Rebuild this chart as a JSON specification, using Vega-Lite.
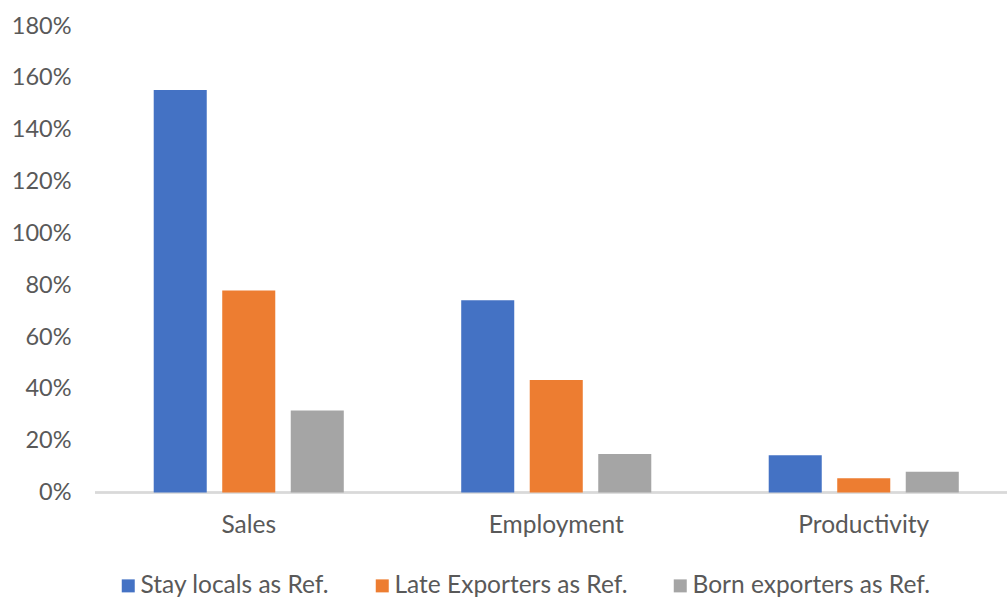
{
  "$schema": "https://vega.github.io/schema/vega-lite/v6.json",
  "autosize": {"type": "none"},
  "padding": {"left": 95, "top": 26, "right": 0, "bottom": 105},
  "width": 912,
  "height": 466.5,
  "background": "white",
  "config": {"view": {"stroke": null}, "font": "Lato"},
  "data": {"values": [
    {"cat": "Sales", "series": "Stay locals as Ref.", "v": 1.553},
    {"cat": "Sales", "series": "Late Exporters as Ref.", "v": 0.779},
    {"cat": "Sales", "series": "Born exporters as Ref.", "v": 0.316},
    {"cat": "Employment", "series": "Stay locals as Ref.", "v": 0.742},
    {"cat": "Employment", "series": "Late Exporters as Ref.", "v": 0.434},
    {"cat": "Employment", "series": "Born exporters as Ref.", "v": 0.149},
    {"cat": "Productivity", "series": "Stay locals as Ref.", "v": 0.144},
    {"cat": "Productivity", "series": "Late Exporters as Ref.", "v": 0.055},
    {"cat": "Productivity", "series": "Born exporters as Ref.", "v": 0.080}
  ]},
  "layer": [
    {
      "mark": {"type": "rule", "color": "#d9d9d9", "strokeWidth": 1.3},
      "encoding": {"y": {"datum": 0}}
    },
    {
      "mark": {"type": "bar"},
      "encoding": {
        "x": {
          "field": "cat", "type": "nominal", "sort": ["Sales", "Employment", "Productivity"],
          "scale": {"range": [0, 922.5], "paddingInner": 0, "paddingOuter": 0},
          "axis": {"title": null, "domain": false, "ticks": false, "labelAngle": 0, "labelFontSize": 24.5, "labelColor": "#595959", "labelPadding": 33, "labelBaseline": "middle"}
        },
        "xOffset": {
          "field": "series", "type": "nominal",
          "sort": ["Stay locals as Ref.", "Late Exporters as Ref.", "Born exporters as Ref."],
          "scale": {"paddingInner": 0.226, "paddingOuter": 0.857}
        },
        "y": {
          "field": "v", "type": "quantitative",
          "scale": {"domain": [0, 1.8], "nice": false},
          "axis": {"title": null, "format": ".0%", "values": [0, 0.2, 0.4, 0.6, 0.8, 1.0, 1.2, 1.4, 1.6, 1.8], "domain": false, "ticks": false, "gridColor": "#d9d9d9", "gridWidth": 1.3, "labelFontSize": 23.5, "labelColor": "#595959", "labelPadding": 24}
        },
        "color": {
          "field": "series", "type": "nominal",
          "sort": ["Stay locals as Ref.", "Late Exporters as Ref.", "Born exporters as Ref."],
          "scale": {"domain": ["Stay locals as Ref.", "Late Exporters as Ref.", "Born exporters as Ref."], "range": ["#4472C4", "#ED7D31", "#A5A5A5"]},
          "legend": {"title": null, "orient": "none", "direction": "horizontal", "legendX": 21, "legendY": 547.5, "symbolType": "square", "symbolSize": 169, "symbolStrokeWidth": 0, "labelFontSize": 24.5, "labelColor": "#595959", "labelOffset": 0, "columnPadding": 40, "labelLimit": 400}
        }
      }
    }
  ]
}
